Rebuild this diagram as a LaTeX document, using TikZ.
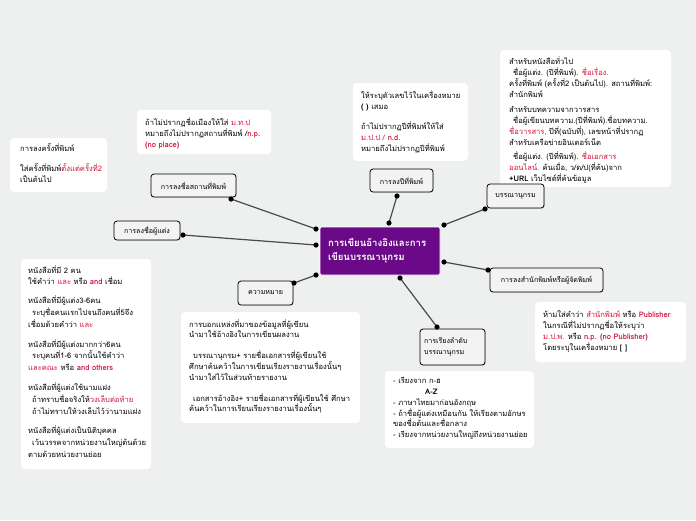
\documentclass[tikz,border=0pt]{standalone}
\usepackage{fontspec}
\setmainfont[Script=Thai]{Loma}
\usetikzlibrary{shadows}
\definecolor{bg}{HTML}{EEEFEF}
\definecolor{rd}{HTML}{D2143C}
\definecolor{pp}{HTML}{6B0A88}
\definecolor{ln}{HTML}{4A4A4A}
\definecolor{topicfill}{HTML}{F3F3F3}
\newcommand\rt[1]{\textcolor{rd}{#1}}
\newcommand\rb[1]{\textcolor{rd}{\textbf{#1}}}
\newcommand\ind{\hspace*{4pt}}
\tikzset{
 note/.style={fill=white, rounded corners=4pt},
 txt/.style={anchor=north west, inner sep=0pt, align=left, font=\fontsize{7.6}{11}\selectfont},
 topic/.style={draw=black, line width=0.8pt, fill=topicfill, rounded corners=3pt, inner sep=0pt,
   font=\fontsize{7.1}{11}\selectfont,
   drop shadow={shadow xshift=0.8pt, shadow yshift=-0.8pt, opacity=0.25}},
 conn/.style={draw=ln, line width=1.2pt},
 dotc/.style={fill=black},
}
\begin{document}
\begin{tikzpicture}[x=1pt,y=-1pt]
\useasboundingbox (0,0) rectangle (696,520);
\fill[bg] (0,0) rectangle (696,520);

% notes
\fill[note] (10,138) rectangle (107,192);
\fill[note] (137,110) rectangle (271,154);
\fill[note] (353,83) rectangle (468,161);
\fill[note] (500,50) rectangle (671,187);
\fill[note] (21,259) rectangle (151,469);
\fill[note] (181,312) rectangle (360,423);
\fill[note] (385,371) rectangle (534,448);
\fill[note] (535,302) rectangle (686,362);

\node[txt] (n1) at (20,143) {การลงครั้งที่พิมพ์\\[9pt]ใส่ครั้งที่พิมพ์\rt{ตั้งแต่ครั้งที่2}\\เป็นต้นไป};
\node[txt] (n2) at (145,117) {ถ้าไม่ปรากฏชื่อเมืองให้ใส่ \rt{ม.ท.ป}\\หมายถึงไม่ปรากฏสถานที่พิมพ์ /\rb{n.p.}\\\rb{(no place)}};
\node[txt] (n3) at (361,90) {ให้ระบุตัวเลขไว้ในเครื่องหมาย\\\textbf{(\hspace{2.5pt})} เสมอ\\[9pt]ถ้าไม่ปรากฏปีที่พิมพ์ให้ใส่\\\rt{ม.ป.ป / \textbf{n.d.}}\\หมายถึงไม่ปรากฏปีที่พิมพ์};
\node[txt] (n4) at (509,56) {สำหรับหนังสือทั่วไป\\\ind ชื่อผู้แต่ง. (ปีที่พิมพ์). \rt{ชื่อเรื่อง.}\\ครั้งที่พิมพ์ (ครั้งที่2 เป็นต้นไป). สถานที่พิมพ์:\\สำนักพิมพ์\\[4pt]สำหรับบทความจากวารสาร\\\ind ชื่อผู้เขียนบทความ.(ปีที่พิมพ์).ชื่อบทความ.\\\rt{ชื่อวารสาร,} ปีที่(ฉบับที่), เลขหน้าที่ปรากฏ\\สำหรับเครือข่ายอินเตอร์เน็ต\\[3pt]\ind ชื่อผู้แต่ง. (ปีที่พิมพ์). \rt{ชื่อเอกสาร}\\\rt{ออนไลน์.} ค้นเมื่อ, ว/ด/ป(ที่ค้น)จาก\\\textbf{+URL} เว็บไซต์ที่ค้นข้อมูล};
\node[txt, font=\fontsize{7.6}{11.8}\selectfont] (n5) at (28,265) {หนังสือที่มี 2 คน\\ใช้คำว่า \rt{และ} หรือ \rb{and} เชื่อม\\[7pt]หนังสือที่มีผู้แต่ง3-6คน\\\ind ระบุชื่อคนแรกไปจนถึงคนที่5จึง\\เชื่อมด้วยคำว่า \rt{และ}\\[8pt]หนังสือที่มีผู้แต่งมากกว่า6คน\\\ind ระบุคนที่1-6 จากนั้นใช้คำว่า\\\rt{และคณะ} หรือ \rb{and others}\\[8pt]หนังสือที่ผู้แต่งใช้นามแฝง\\\ind ถ้าทราบชื่อจริงให้\rt{วงเล็บต่อท้าย}\\\ind ถ้าไม่ทราบให้วงเล็บไว้ว่านามแฝง\\[8pt]หนังสือที่ผู้แต่งเป็นนิติบุคคล\\\ind เว้นวรรคจากหน่วยงานใหญ่ต้นด้วย\\ตามด้วยหน่วยงานย่อย};
\node[txt, font=\fontsize{7.6}{10.8}\selectfont] (n6) at (189,319) {การบอกแหล่งที่มาของข้อมูลที่ผู้เขียน\\นำมาใช้อ้างอิงในการเขียนผลงาน\\[10pt]\ind บรรณานุกรม+ รายชื่อเอกสารที่ผู้เขียนใช้\\ศึกษาค้นคว้าในการเขียนเรียงรายงานเรื่องนั้นๆ\\นำมาใส่ไว้ในส่วนท้ายรายงาน\\[10pt]\ind เอกสารอ้างอิง+ รายชื่อเอกสารที่ผู้เขียนใช้ ศึกษา\\ค้นคว้าในการเรียนเรียงรายงานเรื่องนั้นๆ};
\node[txt, font=\fontsize{7.6}{10.8}\selectfont] (n7) at (393,377) {- เรียงจาก ก-ฮ\\\hspace*{32pt}\textbf{A-Z}\\- ภาษาไทยมาก่อนอังกฤษ\\- ถ้าชื่อผู้แต่งเหมือนกัน ให้เรียงตามอักษร\\ของชื่อต้นและชื่อกลาง\\- เรียงจากหน่วยงานใหญ่ถึงหน่วยงานย่อย};
\node[txt, font=\fontsize{7.6}{11.3}\selectfont] (n8) at (543,310) {ห้ามใส่คำว่า \rt{สำนักพิมพ์} หรือ \rb{Publisher}\\ในกรณีที่ไม่ปรากฏชื่อให้ระบุว่า\\\rt{ม.ป.พ.} หรือ \rb{n.p. (no Publisher)}\\โดยระบุในเครื่องหมาย \textbf{[\hspace{3pt}]}};

% topics
\node[topic, minimum width=85pt, minimum height=23pt] (A) at (193.5,185.5) {การลงชื่อสถานที่พิมพ์};
\node[topic, minimum width=66pt, minimum height=19pt] (B) at (147,230.5) {การลงชื่อผู้แต่ง};
\node[topic, minimum width=63pt, minimum height=23pt] (C) at (401.5,180.5) {การลงปีที่พิมพ์};
\node[topic, minimum width=57pt, minimum height=24pt] (D) at (515.5,196) {บรรณานุกรม};
\node[topic, minimum width=113pt, minimum height=24pt] (E) at (546.5,280) {การลงสำนักพิมพ์หรือผู้จัดพิมพ์};
\node[topic, minimum width=55pt, minimum height=24pt] (F) at (265.5,293) {ความหมาย};
\node[topic, minimum width=65pt, minimum height=36pt, align=left, text width=57pt] (G) at (452.5,347) {การเรียงลำดับ\\บรรณานุกรม};

% center
\node[draw=white, line width=0.6pt, fill=pp, rounded corners=2pt, minimum width=120pt, minimum height=48pt,
  text=white, font=\bfseries\fontsize{9.6}{14}\selectfont, align=left, text width=104pt] (M) at (380,251)
  {การเขียนอ้างอิงและการ\\เขียนบรรณานุกรม};

% connector ends
\coordinate (a1) at (231,199); \coordinate (a2) at (316,229);
\coordinate (b1) at (183,235); \coordinate (b2) at (316,245);
\coordinate (c1) at (397,196); \coordinate (c2) at (389,223);
\coordinate (d1) at (485,209); \coordinate (d2) at (444,225);
\coordinate (e1) at (488,270); \coordinate (e2) at (444,262);
\coordinate (f1) at (294,283); \coordinate (f2) at (316,275);
\coordinate (g1) at (437,327); \coordinate (g2) at (400,278);
\foreach \p in {a,b,c,d,e,f,g}{
  \draw[conn] (\p1) -- (\p2);
  \fill[dotc] (\p1) circle (2.6pt);
  \fill[dotc] (\p2) circle (2.6pt);
}
\end{tikzpicture}
\end{document}
